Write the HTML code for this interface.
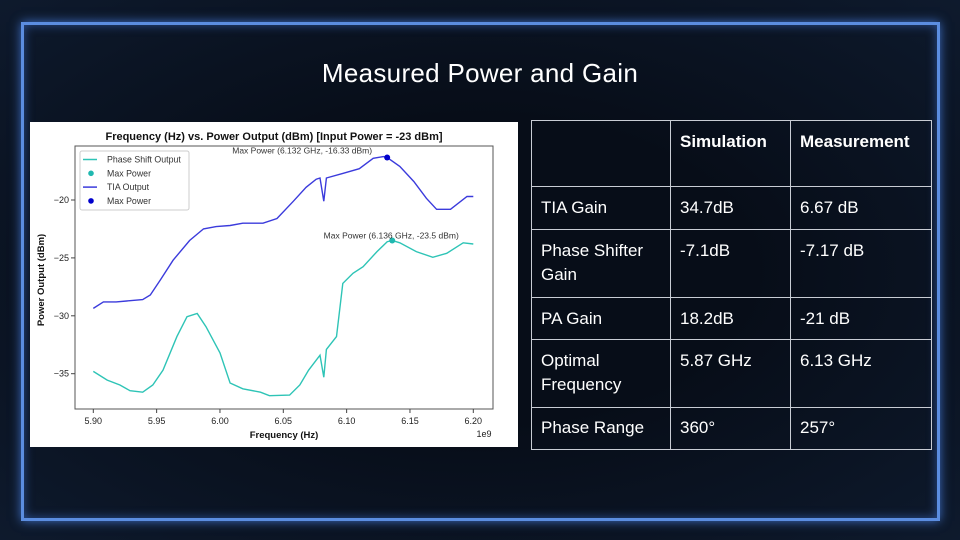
<!DOCTYPE html>
<html><head><meta charset="utf-8"><style>
html,body{margin:0;padding:0;}
body{width:960px;height:540px;background:#0b1220;position:relative;overflow:hidden;font-family:"Liberation Sans",sans-serif;}
.bg{position:absolute;left:0;top:0;width:960px;height:540px;background:radial-gradient(ellipse at 50% 50%,#070d18 40%,#0e1a2d 100%);}
.frame{position:absolute;left:21px;top:22px;width:913px;height:493px;border:3px solid #5b8de0;box-shadow:0 0 10px #3f6fc4, inset 0 0 10px #2c4f90;}
.title{position:absolute;left:0;width:960px;top:58px;text-align:center;color:#fff;font-size:26px;letter-spacing:0.3px;}
.chart{position:absolute;left:30px;top:122px;width:488px;height:325px;background:#fff;}
table{position:absolute;left:531px;top:120px;width:401px;border-collapse:collapse;color:#fff;font-size:17px;}
td{border:1px solid #c8ccd4;padding:0 9px;vertical-align:top;line-height:24px;}
th{border:1px solid #c8ccd4;padding:11px 9px;text-align:left;vertical-align:top;font-size:17px;}
</style></head><body>
<div class="bg"></div>
<div class="frame"></div>
<div class="title">Measured Power and Gain</div>
<div class="chart">
<svg id="svg" width="488" height="325" xmlns="http://www.w3.org/2000/svg" font-family="Liberation Sans, sans-serif"></svg>
</div>
<table>
<tr style="height:66px"><th style="width:120px"></th><th style="width:101px">Simulation</th><th>Measurement</th></tr>
<tr style="height:43px"><td style="padding-top:9px">TIA Gain</td><td style="padding-top:9px">34.7dB</td><td style="padding-top:9px">6.67 dB</td></tr>
<tr style="height:68px"><td style="padding-top:9px">Phase Shifter Gain</td><td style="padding-top:9px">-7.1dB</td><td style="padding-top:9px">-7.17 dB</td></tr>
<tr style="height:42px"><td style="padding-top:9px">PA Gain</td><td style="padding-top:9px">18.2dB</td><td style="padding-top:9px">-21 dB</td></tr>
<tr style="height:68px"><td style="padding-top:9px">Optimal Frequency</td><td style="padding-top:9px">5.87 GHz</td><td style="padding-top:9px">6.13 GHz</td></tr>
<tr style="height:42px"><td style="padding-top:8px">Phase Range</td><td style="padding-top:8px">360°</td><td style="padding-top:8px">257°</td></tr>
</table>
<script>
const tiaFreq=[5.900,5.908,5.918,5.939,5.945,5.953,5.963,5.976,5.987,5.997,6.008,6.018,6.034,6.045,6.058,6.068,6.076,6.079,6.082,6.084,6.097,6.110,6.121,6.129,6.132,6.142,6.153,6.163,6.171,6.182,6.195,6.200];
const tiaPower=[-29.36,-28.8,-28.8,-28.6,-28.2,-26.9,-25.2,-23.5,-22.5,-22.3,-22.2,-22.0,-22.0,-21.6,-20.1,-18.9,-18.2,-18.1,-20.1,-18.1,-17.7,-17.3,-16.4,-16.25,-16.33,-17.1,-18.4,-19.85,-20.8,-20.8,-19.7,-19.7];
const phaseFreq=[5.900,5.911,5.921,5.929,5.939,5.947,5.955,5.966,5.974,5.982,5.989,6.000,6.008,6.018,6.032,6.039,6.055,6.063,6.070,6.079,6.082,6.084,6.092,6.097,6.105,6.113,6.124,6.132,6.136,6.142,6.155,6.168,6.179,6.192,6.200];
const phasePower=[-34.8,-35.55,-35.98,-36.47,-36.6,-35.98,-34.7,-31.8,-30.08,-29.8,-30.94,-33.2,-35.8,-36.3,-36.6,-36.9,-36.85,-35.98,-34.7,-33.4,-35.3,-32.9,-31.8,-27.2,-26.33,-25.76,-24.46,-23.6,-23.5,-23.7,-24.46,-24.95,-24.6,-23.7,-23.8];
const tiaMax=[6.132,-16.33];
const phaseMax=[6.136,-23.5];
const xTicks=[5.90,5.95,6.00,6.05,6.10,6.15,6.20];
const yTicks=[-20,-25,-30,-35];

const NS='http://www.w3.org/2000/svg';
const svg=document.getElementById('svg');
const X0=5.9,X1=6.2,PX0=63.3,PX1=443.3;
const Y0=-20,Y1=-35,PY0=78,PY1=251.7;
const xs=v=>PX0+(v-X0)/(X1-X0)*(PX1-PX0);
const ys=v=>PY0+(v-Y0)/(Y1-Y0)*(PY1-PY0);
function mk(tag,attrs){const e=document.createElementNS(NS,tag);for(const k in attrs)e.setAttribute(k,attrs[k]);svg.appendChild(e);return e;}
let e;
e=mk('rect',{x:45,y:24,width:418,height:263,fill:'none',stroke:'#555','stroke-width':1});


e=mk('text',{x:244,y:18,'text-anchor':'middle','font-size':11,'font-weight':'bold',fill:'#111'});
e.textContent='Frequency (Hz) vs. Power Output (dBm) [Input Power = -23 dBm]';


xTicks.forEach(t=>{
  const x=xs(t);
  mk('line',{x1:x,x2:x,y1:287,y2:291,stroke:'#444'});
  const tx=mk('text',{x:x,y:302,'text-anchor':'middle','font-size':9,fill:'#222'});
  tx.textContent=t.toFixed(2);
  
  
});
yTicks.forEach(t=>{
  const y=ys(t);
  mk('line',{x1:41,x2:45,y1:y,y2:y,stroke:'#444'});
  const tx=mk('text',{x:39,y:y+3,'text-anchor':'end','font-size':9,fill:'#222'});
  tx.textContent='\u2212'+Math.abs(t);
  
  
});
e=mk('text',{x:254,y:316,'text-anchor':'middle','font-size':9.5,'font-weight':'bold',fill:'#111'});
e.textContent='Frequency (Hz)';


e=mk('text',{x:454,y:315,'text-anchor':'middle','font-size':9,fill:'#222'});
e.textContent='1e9';


e=mk('text',{x:14,y:158,'text-anchor':'middle','font-size':9.5,'font-weight':'bold',fill:'#111',transform:'rotate(-90 14 158)'});
e.textContent='Power Output (dBm)';


function line(f,p,col,name){
  const d=f.map((v,i)=>(i?'L':'M')+xs(v).toFixed(1)+' '+ys(p[i]).toFixed(1)).join(' ');
  const l=mk('path',{d:d,fill:'none',stroke:col,'stroke-width':1.4});
  
  
}
line(phaseFreq,phasePower,'#2ec4b6','phase-shift-line');
line(tiaFreq,tiaPower,'#3b3bdc','tia-line');
e=mk('circle',{cx:xs(tiaMax[0]),cy:ys(tiaMax[1]),r:3,fill:'#0000cc'});


e=mk('circle',{cx:xs(phaseMax[0]),cy:ys(phaseMax[1]),r:3,fill:'#20b8b0'});


e=mk('text',{x:xs(tiaMax[0])-85,y:ys(tiaMax[1])-4,'text-anchor':'middle','font-size':8.5,fill:'#333'});
e.textContent='Max Power ('+tiaMax[0].toFixed(3)+' GHz, '+tiaMax[1]+' dBm)';


e=mk('text',{x:xs(phaseMax[0])-1,y:ys(phaseMax[1])-2,'text-anchor':'middle','font-size':8.5,fill:'#333'});
e.textContent='Max Power ('+phaseMax[0].toFixed(3)+' GHz, '+phaseMax[1]+' dBm)';


e=mk('rect',{x:50,y:29,width:109,height:59,fill:'#fff',stroke:'#ccc',rx:2});


const leg=[['Phase Shift Output','#2ec4b6','line'],['Max Power','#20b8b0','dot'],['TIA Output','#3b3bdc','line'],['Max Power','#0000cc','dot']];
leg.forEach((it,i)=>{
  const y=37.5+i*13.8;
  if(it[2]==='line')mk('line',{x1:53,x2:67,y1:y,y2:y,stroke:it[1],'stroke-width':1.5});
  else mk('circle',{cx:61,cy:y,r:2.8,fill:it[1]});
  const t=mk('text',{x:77,y:y+3,'font-size':8.8,fill:'#333'});
  t.textContent=it[0];
  
  
});
</script>
</body></html>
